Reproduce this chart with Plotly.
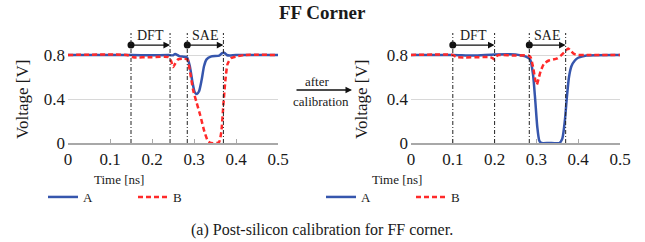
import plotly.graph_objects as go

# ---- data ----
tA_left = [0, 0.15, 0.2, 0.24, 0.25, 0.255, 0.265, 0.275, 0.283, 0.29, 0.296, 0.302, 0.307, 0.312,
           0.318, 0.324, 0.33, 0.34, 0.36, 0.366, 0.372, 0.378, 0.385, 0.4, 0.5]
vA_left = [0.8, 0.8, 0.797, 0.8, 0.797, 0.81, 0.79, 0.785, 0.78, 0.7, 0.56, 0.46, 0.445, 0.47,
           0.57, 0.7, 0.76, 0.785, 0.795, 0.815, 0.82, 0.8, 0.795, 0.8, 0.8]

tB_left = [0, 0.14, 0.155, 0.2, 0.24, 0.246, 0.25, 0.255, 0.262, 0.275, 0.284, 0.29, 0.298, 0.306,
           0.315, 0.325, 0.333, 0.34, 0.355, 0.36, 0.365, 0.37, 0.375, 0.38, 0.388, 0.4, 0.42, 0.5]
vB_left = [0.8, 0.8, 0.78, 0.78, 0.78, 0.74, 0.69, 0.72, 0.76, 0.765, 0.76, 0.66, 0.48, 0.37,
           0.25, 0.1, 0.02, 0.0, 0.0, 0.01, 0.1, 0.35, 0.58, 0.72, 0.77, 0.785, 0.8, 0.8]

tA_right = [0, 0.1, 0.15, 0.2, 0.25, 0.265, 0.275, 0.285, 0.292, 0.297, 0.302, 0.307, 0.312, 0.33,
            0.355, 0.362, 0.368, 0.373, 0.378, 0.384, 0.392, 0.4, 0.42, 0.5]
vA_right = [0.8, 0.8, 0.795, 0.805, 0.805, 0.795, 0.785, 0.76, 0.62, 0.4, 0.15, 0.02, 0.0, 0.0,
            0.0, 0.04, 0.2, 0.42, 0.6, 0.7, 0.75, 0.775, 0.795, 0.8]

tB_right = [0, 0.1, 0.11, 0.19, 0.196, 0.2, 0.205, 0.21, 0.25, 0.28, 0.286, 0.292, 0.297, 0.301,
            0.305, 0.31, 0.318, 0.33, 0.35, 0.36, 0.368, 0.376, 0.382, 0.39, 0.4, 0.42, 0.5]
vB_right = [0.8, 0.8, 0.78, 0.78, 0.77, 0.76, 0.79, 0.8, 0.795, 0.795, 0.78, 0.69, 0.58, 0.53,
            0.58, 0.65, 0.72, 0.75, 0.77, 0.8, 0.83, 0.86, 0.84, 0.81, 0.8, 0.8, 0.8]

dft_left = [0.15, 0.243]
sae_left = [0.284, 0.37]
dft_right = [0.1, 0.2]
sae_right = [0.283, 0.37]

x_ticks = [0, 0.1, 0.2, 0.3, 0.4, 0.5]
y_ticks = [0, 0.4, 0.8]
y_ticktext = ["0", "0.4", "0.8"]

title_text = "<b>FF Corner</b>"
caption_text = "(a) Post-silicon calibration for FF corner."

# ---- style ----
W, H = 645, 242
FONT = "Liberation Serif, Times New Roman, serif"
TXT = "#1a1a1a"
BLUE = "#3656ad"
RED = "#ff2a2a"
GRID = "#d8d8d8"
AXC = "#a8a8a8"

def px(x):
    return x / W

def py(y):
    return 1 - y / H

def label(x, y, text, size, angle=0):
    return dict(xref="paper", yref="paper", x=px(x), y=py(y), text=text, showarrow=False,
                xanchor="center", yanchor="middle", textangle=angle,
                font=dict(family=FONT, size=size, color=TXT))

fig = go.Figure()

for xa, ya, lg, tA, vA, tB, vB in [
    ("x", "y", "legend", tA_left, vA_left, tB_left, vB_left),
    ("x2", "y2", "legend2", tA_right, vA_right, tB_right, vB_right),
]:
    fig.add_trace(go.Scatter(x=tA, y=vA, mode="lines", name="A", xaxis=xa, yaxis=ya, legend=lg,
                             line=dict(color=BLUE, width=2.5, shape="spline", smoothing=0.6)))
    fig.add_trace(go.Scatter(x=tB, y=vB, mode="lines", name="B", xaxis=xa, yaxis=ya, legend=lg,
                             line=dict(color=RED, width=2.5, dash="5px,3px", shape="spline", smoothing=0.6)))

ARROW_Y = 0.89
LABEL_Y = 0.98
LINE_TOP = 1.0

annotations = []
shapes = []
for xa, ya, segs in [("x", "y", [(dft_left, "DFT"), (sae_left, "SAE")]),
                     ("x2", "y2", [(dft_right, "DFT"), (sae_right, "SAE")])]:
    starts = []
    for seg, lab in segs:
        for xv in seg:
            shapes.append(dict(type="line", xref=xa, yref=ya, x0=xv, x1=xv, y0=0, y1=LINE_TOP,
                               line=dict(color="#222", width=1, dash="4px,2px,1px,2px")))
        annotations.append(dict(xref=xa, yref=ya, x=seg[1], y=ARROW_Y, axref=xa, ayref=ya,
                                ax=seg[0], ay=ARROW_Y, text="", showarrow=True, arrowhead=2,
                                arrowsize=1.1, arrowwidth=1.2, arrowcolor="#111", standoff=0))
        annotations.append(dict(xref=xa, yref=ya, x=(seg[0] + seg[1]) / 2, y=LABEL_Y, text=lab,
                                xanchor="center", yanchor="middle", showarrow=False,
                                font=dict(family=FONT, size=14, color=TXT)))
        starts.append(seg[0])
    fig.add_trace(go.Scatter(x=starts, y=[ARROW_Y] * len(starts), mode="markers", xaxis=xa, yaxis=ya,
                             marker=dict(color="#111", size=7), showlegend=False, hoverinfo="skip"))

# axis titles
for xc in [119, 397]:
    annotations.append(label(xc, 179, "Time [ns]", 13))
for xc in [23, 362]:
    annotations.append(label(xc, 100, "Voltage [V]", 17, angle=-90))

# after calibration
annotations.append(label(317, 81, "after", 13))
annotations.append(label(321, 102, "calibration", 13))
annotations.append(dict(xref="paper", yref="paper", x=px(352), y=py(90), axref="pixel", ayref="pixel",
                        ax=-57, ay=0, text="", showarrow=True, arrowhead=2, arrowsize=1,
                        arrowwidth=1.3, arrowcolor="#111", standoff=0))

annotations.append(label(322, 12, title_text, 19))
annotations.append(label(322, 230, caption_text, 16))

ydom = [py(143), py(33)]
xaxis_common = dict(range=[0, 0.5], tickvals=x_ticks, ticktext=[str(v) for v in x_ticks],
                    showline=True, linecolor=AXC, linewidth=1.5, ticks="inside", ticklen=4,
                    tickcolor=AXC, tickwidth=1, showgrid=False, zeroline=False, automargin=False,
                    tickfont=dict(family=FONT, size=17, color=TXT), fixedrange=True)
yaxis_common = dict(range=[0, LINE_TOP], tickvals=y_ticks, ticktext=y_ticktext, showgrid=True,
                    gridcolor=GRID, gridwidth=1, zeroline=False, showline=False, ticks="",
                    automargin=False, ticklabelstandoff=2,
                    tickfont=dict(family=FONT, size=17, color=TXT), domain=ydom, fixedrange=True)

legend_common = dict(orientation="h", yanchor="middle", xanchor="left", bgcolor="rgba(0,0,0,0)",
                     font=dict(family=FONT, size=13, color=TXT), entrywidth=45,
                     entrywidthmode="pixels", borderwidth=0, itemclick=False)

fig.update_layout(
    template="none",
    width=W, height=H, autosize=False,
    margin=dict(l=0, r=0, t=0, b=0, pad=0, autoexpand=False),
    paper_bgcolor="white", plot_bgcolor="white",
    xaxis=dict(domain=[px(68), px(278)], anchor="y", **xaxis_common),
    yaxis=dict(anchor="x", **yaxis_common),
    xaxis2=dict(domain=[px(411), px(620)], anchor="y2", **xaxis_common),
    yaxis2=dict(anchor="x2", **yaxis_common),
    legend=dict(x=px(43), y=py(197), **legend_common),
    legend2=dict(x=px(321), y=py(197), **legend_common),
    annotations=annotations,
    shapes=shapes,
    showlegend=True,
)

fig.write_html("out.html", config={"displayModeBar": False},
               post_script="document.body.style.margin='0';")
